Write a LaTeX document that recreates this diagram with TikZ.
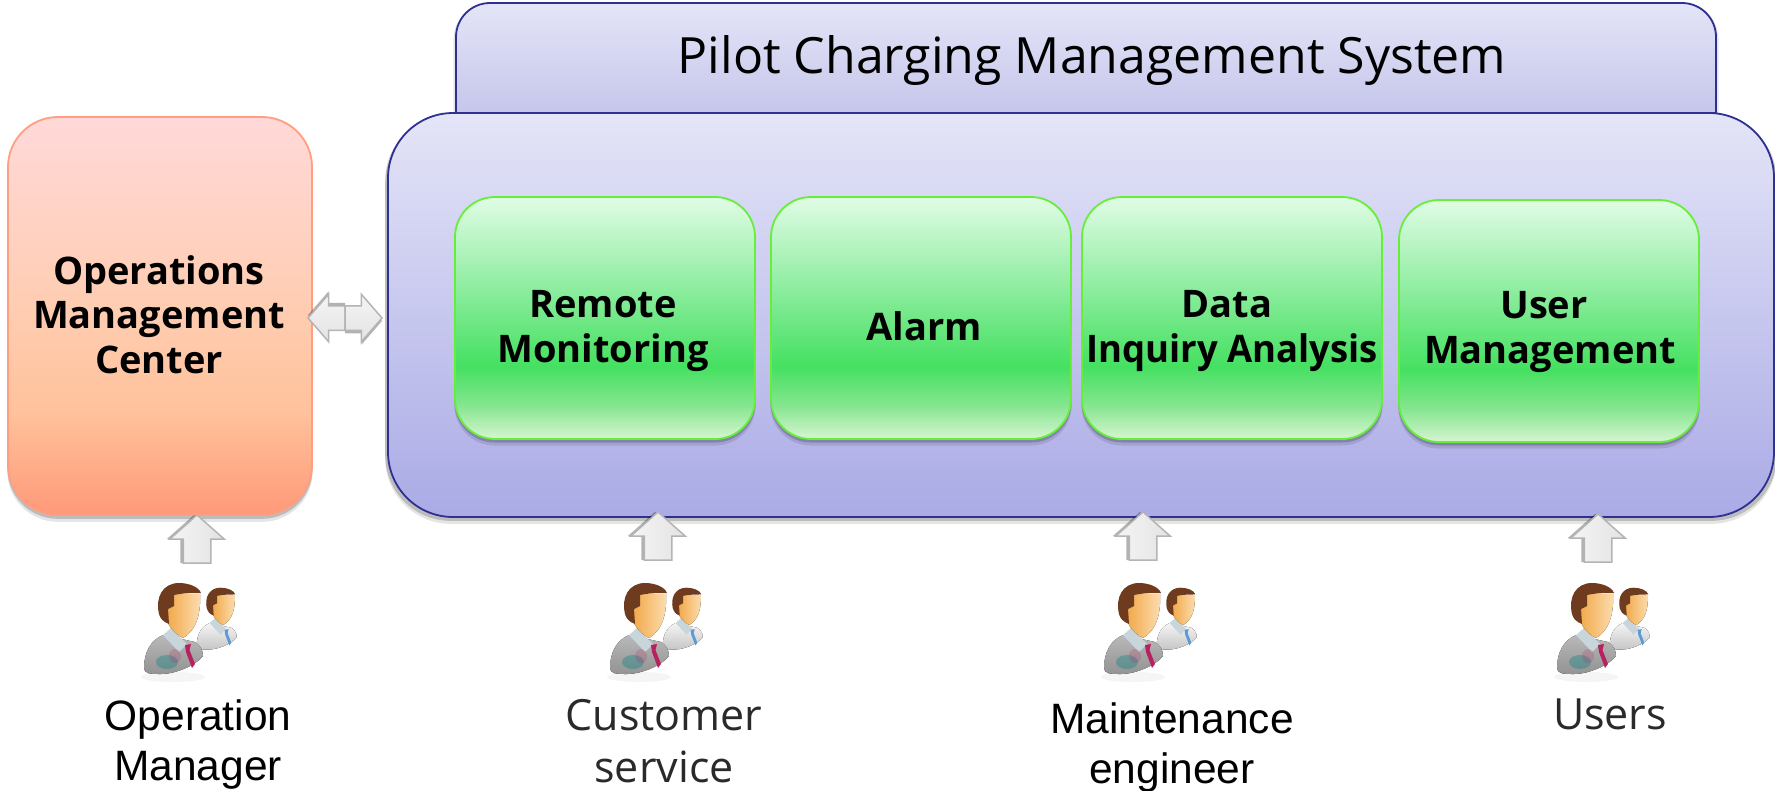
\documentclass[tikz,border=0pt]{standalone}
\usepackage{fontspec}
\usetikzlibrary{shapes.arrows,shadows}
\newfontfamily\segoe{Open Sans}
\newfontfamily\arial{Liberation Sans}

\definecolor{navyline}{HTML}{2E3192}
\definecolor{greenline}{HTML}{66EE3A}
\definecolor{orangeline}{HTML}{FF9E80}
\definecolor{arrowline}{HTML}{B4B4B4}
\definecolor{darktext}{HTML}{2A2A2A}
\definecolor{hair}{HTML}{6E3B1E}
\definecolor{skinleft}{HTML}{F2A94A}
\definecolor{skinright}{HTML}{FCDDB0}
\definecolor{tiebig}{HTML}{B82060}
\definecolor{tiesmall}{HTML}{5A9BD5}

\pgfdeclareverticalshading{mainfill}{100bp}{rgb(0bp)=(.667,.667,.902);
  rgb(25bp)=(.667,.667,.902);rgb(75bp)=(.894,.898,.969);rgb(100bp)=(.894,.898,.969)}
\pgfdeclareverticalshading{tabfill}{100bp}{rgb(0bp)=(.776,.776,.922);
  rgb(25bp)=(.776,.776,.922);rgb(75bp)=(.894,.898,.969);rgb(100bp)=(.894,.898,.969)}
\pgfdeclareverticalshading{greenfill}{100bp}{rgb(0bp)=(.84,.96,.82);
  rgb(25bp)=(.84,.96,.82);rgb(32bp)=(.52,.90,.56);rgb(40bp)=(.27,.88,.38);
  rgb(60bp)=(.62,.94,.68);rgb(75bp)=(.88,.99,.90);rgb(100bp)=(.88,.99,.90)}
\pgfdeclareverticalshading{orangefill}{100bp}{rgb(0bp)=(1,.60,.47);
  rgb(25bp)=(1,.60,.47);rgb(38bp)=(1,.76,.61);rgb(50bp)=(1,.80,.69);rgb(75bp)=(1,.85,.85);rgb(100bp)=(1,.85,.85)}

\tikzset{
  softshadow/.style={general shadow={shadow xshift=0pt,shadow yshift=-6pt,shadow scale=1.004,fill=black,opacity=.10},
    general shadow={shadow xshift=0pt,shadow yshift=-3pt,shadow scale=1.004,fill=black,opacity=.18}},
  mainbox/.style={draw=navyline,line width=1.8pt,shading=mainfill,rounded corners=65pt,softshadow,
    minimum width=1386pt,minimum height=404pt},
  greenbox/.style={draw=greenline,line width=1.8pt,shading=greenfill,rounded corners=40pt,softshadow,
    minimum width=300pt,minimum height=242pt},
  orangebox/.style={draw=orangeline,line width=1.8pt,shading=orangefill,rounded corners=50pt,softshadow,
    minimum width=304pt,minimum height=398pt},
  boxtext/.style={anchor=base,inner sep=0pt,align=center,font=\fontsize{38}{44.5}\selectfont\segoe\bfseries},
  blockarrow/.style={single arrow,anchor=tail,outer sep=0pt,draw=arrowline,line width=1.5pt,left color=gray!8,right color=gray!22,
    inner xsep=0pt,inner ysep=13pt,single arrow head extend=13.5pt,single arrow tip angle=97,
    minimum height=48pt,drop shadow={shadow xshift=-3pt,shadow yshift=0pt,opacity=.3,fill=black}},
  sidearrow/.style={single arrow,anchor=tail,outer sep=0pt,draw=arrowline,line width=1.5pt,top color=gray!8,bottom color=gray!22,
    inner xsep=0pt,inner ysep=11.5pt,single arrow head extend=11.5pt,single arrow tip angle=98,
    minimum height=37pt},
  arialtext/.style={anchor=base,inner sep=0pt,align=center,font=\fontsize{42.5}{50}\selectfont\arial},
  segoetext/.style={anchor=base,inner sep=0pt,align=center,text=darktext,font=\fontsize{43}{52}\selectfont\segoe},
  manager/.pic={
    \fill[black!20,opacity=.2] (30,95) ellipse (32pt and 5pt);
    \begin{scope}[shift={(53,5)},scale=.68]
      \drawperson{gray!8}{gray!45}{tiesmall}
    \end{scope}
    \drawperson{gray!55}{gray!85}{tiebig}
    \fill[teal,opacity=.35] (24,80) ellipse (11pt and 7pt);
    \fill[tiebig,opacity=.2] (32,74) ellipse (6pt and 7pt);
  }
}
\newcommand{\drawperson}[3]{
  \fill[top color=#1,bottom color=#2] (1,86) .. controls (1,70) and (8,58) .. (20,53)
    -- (52,60) .. controls (57,63) and (60,68) .. (60,74) .. controls (52,84) and (32,92) .. (18,92)
    .. controls (8,92) and (1,92) .. (1,86) -- cycle;
  \fill[cyan!25!gray!40] (20,53) -- (28,46) -- (44,62) -- (36,70) -- cycle;
  \fill[#3] (42,63) -- (48,62) -- (46.5,68) -- (52,82) -- (49,86) -- (43,70) -- cycle;
  \fill[left color=skinleft,right color=skinright] (24,12) -- (57,12) .. controls (58,30) and (54,48) .. (40,56)
    .. controls (32,52) and (26,45) .. (24,38) -- cycle;
  \fill[hair] (16,32) .. controls (12,15) and (20,1) .. (36,1) .. controls (46,1) and (56,5) .. (58,11)
    .. controls (50,11) and (40,11) .. (31,13) -- (31,24) -- (25,27) -- (26,42) .. controls (20,40) and (17,36) .. (16,32) -- cycle;
}

\begin{document}
\begin{tikzpicture}[x=1pt,y=-1pt]
	\useasboundingbox (0,0) rectangle (1775,790);
	% system title and frame
	\path[draw=navyline,line width=1.8pt,shading=tabfill,general shadow={shadow xshift=0pt,shadow yshift=-2pt,shadow scale=1.004,fill=black,opacity=.1}]
		(456,113) [rounded corners=34pt] -- (456,3) -- (1716,3) [sharp corners] -- (1716,113) -- cycle;
	\node (title) [anchor=base,inner sep=0pt,font=\fontsize{50}{60}\selectfont\segoe] at (1092,73) {Pilot Charging Management System};
	\node (system) [mainbox] at (1081,315) {};
	\node (center) [orangebox] at (160,316) {};
	\node (centerText) [boxtext] at (159,373) {Operations\\Management\\Center};

	% modules
	\node (remote) [greenbox] at (605,318) {};
	\node (alarm) [greenbox,node distance=316pt,right of=remote] {};
	\node (inquiry) [greenbox,node distance=311pt,right of=alarm] {};
	\node (users) [greenbox,node distance=317pt,right of=inquiry,yshift=-3pt] {};
	\node (remoteText) [boxtext] at (603,362) {Remote\\Monitoring};
	\node (alarmText) [boxtext] at (924,340) {Alarm};
	\node (inquiryText) [boxtext] at (1232,362) {Data\hspace*{10pt}\\\addfontfeature{FakeStretch=.96}Inquiry Analysis};
	\node (usersText) [boxtext] at (1550,363) {User\hspace*{12pt}\\Management};

	% arrows
	\node (linkA) [sidearrow,rotate=180,drop shadow={shadow xshift=0pt,shadow yshift=3pt,opacity=.3,fill=black}] at (345,318) {};
	\node (linkB) [sidearrow,drop shadow={shadow xshift=0pt,shadow yshift=-3pt,opacity=.3,fill=black}] at (345,318) {};
	\node (arrowA) [blockarrow,rotate=90] at (197,563) {};
	\node (arrowB) [blockarrow,rotate=90] at (658,560) {};
	\node (arrowC) [blockarrow,rotate=90] at (1143,560) {};
	\node (arrowD) [blockarrow,rotate=90] at (1598,562) {};

	% people
	\pic (managerA) at (143,582) {manager};
	\pic (managerB) at (609,582) {manager};
	\pic (managerC) at (1103,582) {manager};
	\pic (managerD) at (1556,582) {manager};

	% labels
	\node (labelA) [arialtext] at (198,780) {Operation\\Manager};
	\node (labelB) [segoetext] at (664,782) {Customer\\service};
	\node (labelC) [arialtext] at (1172,783) {Maintenance\\engineer};
	\node (labelD) [segoetext] at (1610,729) {Users};
\end{tikzpicture}
\end{document}
